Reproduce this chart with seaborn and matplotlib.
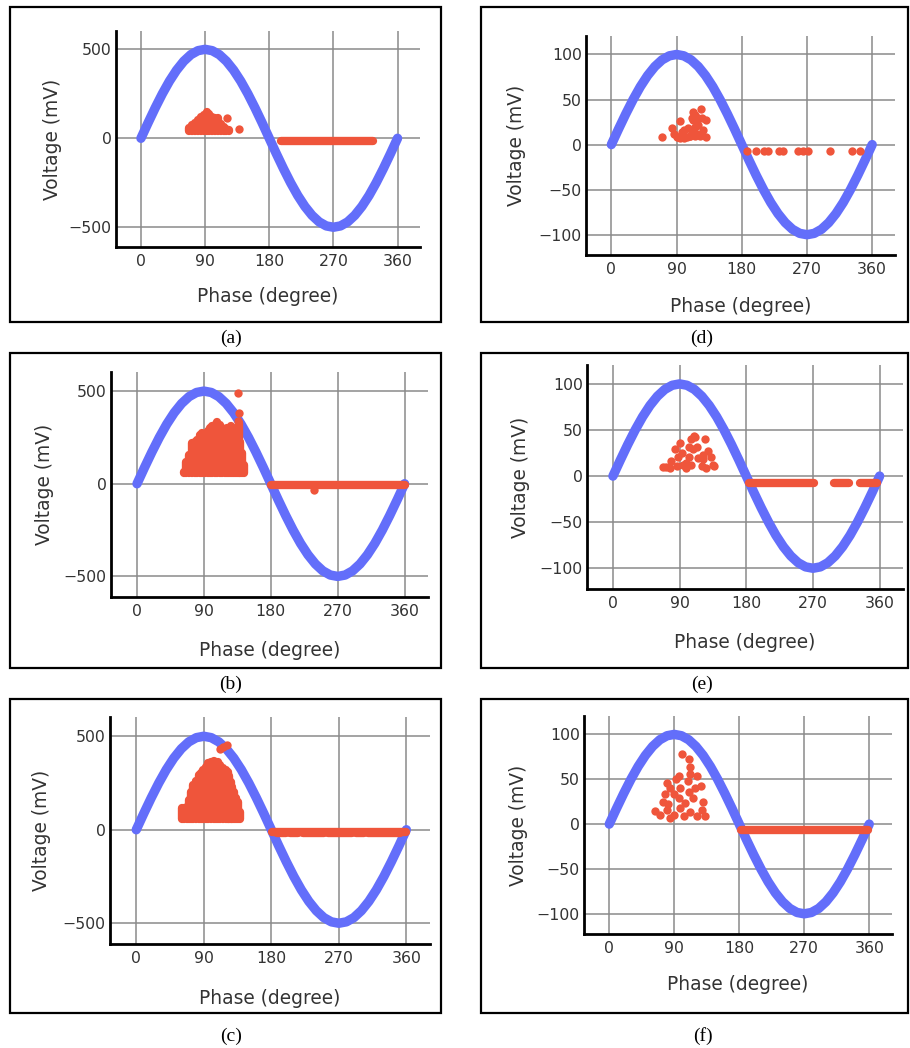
import matplotlib
matplotlib.use("Agg")
import matplotlib.pyplot as plt
from matplotlib.patches import Rectangle
import seaborn as sns

sns.set_style("white")
plt.rcParams["font.family"] = ["DejaVu Sans"]
plt.rcParams["axes.unicode_minus"] = True

W, H = 910, 1048
BLUE = "#636EFA"
RED = "#EF553B"
TXT = "#333333"

# ---------------------------------------------------------------- data
# reference sine, per unit, every 10 degrees
wave_phase = list(range(0, 361, 10))
wave_pu = [0.000, 0.174, 0.342, 0.500, 0.643, 0.766, 0.866, 0.940, 0.985, 1.000,
           0.985, 0.940, 0.866, 0.766, 0.643, 0.500, 0.342, 0.174, 0.000,
           -0.174, -0.342, -0.500, -0.643, -0.766, -0.866, -0.940, -0.985, -1.000,
           -0.985, -0.940, -0.866, -0.766, -0.643, -0.500, -0.342, -0.174, 0.000]

# (a) 500 mV reference
a_amp = 500
a_env_phase = [68, 72, 76, 80, 84, 88, 92, 96, 100, 104, 108, 112, 116, 120, 124]
a_env_top = [60, 72, 85, 100, 118, 132, 145, 138, 118, 116, 115, 80, 62, 50, 44]
a_env_base = 42
a_pts_phase = [121, 138]
a_pts_mv = [115, 52]
a_rows = [(196, 325, -14)]

# (b) 500 mV reference
b_amp = 500
b_env_phase = [60, 63, 66, 70, 74, 78, 81, 85, 88, 91, 95, 98, 101, 105, 108,
               111, 115, 118, 121, 124, 126, 129, 132, 135, 137, 139, 141, 144, 146]
b_env_top = [58, 66, 120, 156, 222, 228, 237, 262, 273, 268, 282, 300, 312, 318, 331,
             318, 300, 290, 300, 296, 312, 300, 291, 300, 327, 228, 165, 102, 58]
b_env_base = 58
b_pts_phase = [136, 137, 135.5, 238]
b_pts_mv = [491, 383, 338, -32]
b_rows = [(180, 360, -9)]

# (c) 500 mV reference
c_amp = 500
c_env_phase = [61, 64, 67, 70, 73, 76, 79, 83, 86, 89, 93, 96, 99, 103, 106, 109, 112,
               116, 119, 122, 124, 126, 128, 130, 133, 135, 138, 140]
c_env_top = [114, 118, 123, 160, 200, 239, 262, 292, 305, 319, 338, 355, 362, 367, 364,
             360, 345, 328, 318, 310, 285, 257, 230, 203, 170, 150, 96, 60]
c_env_base = 56
c_pts_phase = [112, 116, 121]
c_pts_mv = [430, 440, 452]
c_rows = [(181, 359, -11), (187, 199, -20), (205, 216, -20), (222, 250, -20),
          (256, 287, -20), (293, 303, -20), (309, 352, -20)]

# (d) 100 mV reference
d_amp = 100
d_pts_phase = [70, 84, 95, 86, 90, 97, 100, 106, 109, 113, 113, 116, 118, 120, 124,
               125, 130, 127, 130, 104, 95, 111, 92, 100, 111, 116, 123, 116, 109, 120,
               187, 199, 211, 216, 231, 237, 258, 265, 271, 302, 332, 343]
d_pts_mv = [8, 18, 26, 12, 8, 14, 7, 18, 10, 36, 27, 20, 12, 22, 40,
            29, 27, 16, 8, 8, 7, 29, 8, 16, 14, 33, 9, 9, 9, 29,
            -7, -7, -7, -7, -7, -7, -7, -7, -7, -7, -7, -7]
d_rows = []

# (e) 100 mV reference
e_amp = 100
e_pts_phase = [72, 79, 84, 88, 90, 95, 102, 106, 110, 113, 115, 120, 124, 128, 133,
               135, 106, 86, 99, 126, 77, 93, 108, 122, 68, 137, 111, 103, 99, 121]
e_pts_mv = [10, 16, 29, 21, 36, 12, 21, 40, 43, 32, 20, 11, 40, 27, 21,
            12, 12, 11, 9, 9, 9, 25, 29, 23, 10, 11, 42, 32, 14, 19]
e_rows = [(184, 271, -8), (299, 318, -8), (333, 356, -8)]

# (f) 100 mV reference
f_amp = 100
f_pts_phase = [101, 111, 112, 112, 109, 97, 80, 93, 121, 127, 119, 63, 75, 105, 130,
               133, 128, 89, 84, 98, 110, 70, 80, 89, 98, 112, 121, 103, 84, 116,
               96, 77, 82]
f_pts_mv = [78, 73, 64, 56, 48, 54, 46, 50, 54, 43, 40, 15, 25, 24, 25,
            9, 16, 33, 40, 40, 36, 10, 16, 10, 18, 14, 9, 9, 7, 29,
            29, 33, 22]
f_rows = [(182, 358, -7)]

PHASE_TICKS = [0, 90, 180, 270, 360]

# axes boxes in pixels (left, top, right, bottom), label offsets, caption
panels = [
    dict(tag="(a)", amp=a_amp, box=(116, 31, 420, 247), env=(a_env_phase, a_env_top, a_env_base),
         pts=(a_pts_phase, a_pts_mv), rows=a_rows, xl=50, yl=63, cap=(231, 338),
         frame=(10, 7, 441, 322)),
    dict(tag="(b)", amp=b_amp, box=(111, 372, 428, 597), env=(b_env_phase, b_env_top, b_env_base),
         pts=(b_pts_phase, b_pts_mv), rows=b_rows, xl=53, yl=66, cap=(231, 684),
         frame=(10, 353, 441, 668)),
    dict(tag="(c)", amp=c_amp, box=(110, 717, 430, 944), env=(c_env_phase, c_env_top, c_env_base),
         pts=(c_pts_phase, c_pts_mv), rows=c_rows, xl=54, yl=68, cap=(231, 1036),
         frame=(10, 699, 441, 1013)),
    dict(tag="(d)", amp=d_amp, box=(586, 36, 895, 255), env=None,
         pts=(d_pts_phase, d_pts_mv), rows=d_rows, xl=52, yl=69, cap=(702, 338),
         frame=(481, 7, 908, 322)),
    dict(tag="(e)", amp=e_amp, box=(587, 365, 903, 589), env=None,
         pts=(e_pts_phase, e_pts_mv), rows=e_rows, xl=53, yl=67, cap=(702, 684),
         frame=(481, 353, 908, 668)),
    dict(tag="(f)", amp=f_amp, box=(584, 716, 892, 934), env=None,
         pts=(f_pts_phase, f_pts_mv), rows=f_rows, xl=51, yl=65, cap=(703, 1036),
         frame=(481, 699, 908, 1013)),
]

DOT = 6.0        # marker diameter, pt
WAVE_LW = 6.8    # reference line width, pt

fig = plt.figure(figsize=(W / 100, H / 100), dpi=100)
fig.patch.set_facecolor("white")

for p in panels:
    L, T, R, B = p["box"]
    ax = fig.add_axes([L / W, 1 - B / H, (R - L) / W, (B - T) / H])
    amp = p["amp"]
    if amp == 500:
        ax.set_ylim(-611, 603)
        yt = [-500, 0, 500]
    else:
        ax.set_ylim(-122.5, 120.5)
        yt = [-100, -50, 0, 50, 100]
    ax.set_xlim(-35, 391.5)
    ax.set_xticks(PHASE_TICKS)
    ax.set_yticks(yt)

    ax.set_axisbelow(True)
    ax.grid(True, color="#8a8a8a", lw=1.1)
    for s in ("top", "right"):
        ax.spines[s].set_visible(False)
    for s in ("left", "bottom"):
        ax.spines[s].set_color("black")
        ax.spines[s].set_linewidth(2.0)
    ax.tick_params(length=0, labelsize=11.3, labelcolor=TXT)
    ax.tick_params(axis="x", pad=5)
    ax.tick_params(axis="y", pad=3)

    sns.lineplot(x=wave_phase, y=[amp * v for v in wave_pu], ax=ax, color=BLUE,
                 lw=WAVE_LW, sort=False, estimator=None, solid_capstyle="round",
                 solid_joinstyle="round", zorder=2)

    if p["env"] is not None:
        ph, top, base = p["env"]
        ax.vlines(ph, base, top, colors=RED, linewidth=DOT, capstyle="round", zorder=3)
    for x0, x1, lvl in p["rows"]:
        ax.hlines(lvl, x0, x1, colors=RED, linewidth=DOT, capstyle="round", zorder=3)
    px, py = p["pts"]
    sns.scatterplot(x=px, y=py, ax=ax, color=RED, s=DOT ** 2, linewidth=0, zorder=4)

    ax.set_xlabel("Phase (degree)", fontsize=13.4, color=TXT)
    ax.set_ylabel("Voltage (mV)", fontsize=13.4, color=TXT)
    ax.xaxis.set_label_coords(0.5, -p["xl"] / (B - T))
    ax.yaxis.set_label_coords(-p["yl"] / (R - L), 0.5)
    ax.xaxis.label.set_va("center")
    ax.yaxis.label.set_va("center")
    ax.yaxis.label.set_ha("center")

    fx0, fy0, fx1, fy1 = p["frame"]
    fig.add_artist(Rectangle((fx0 / W, 1 - fy1 / H), (fx1 - fx0) / W, (fy1 - fy0) / H,
                             transform=fig.transFigure, fill=False, edgecolor="black",
                             linewidth=1.6))
    cx, cy = p["cap"]
    fig.text(cx / W, 1 - cy / H, p["tag"], family="Liberation Serif", fontsize=14,
             ha="center", va="center", color="black")

fig.savefig("out.png", dpi=100, facecolor="white")
